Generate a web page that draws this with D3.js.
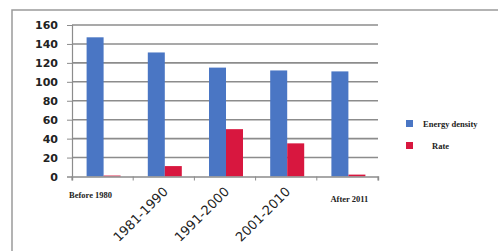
<!DOCTYPE html>
<html>
<head>
<meta charset="utf-8">
<script src="https://cdn.jsdelivr.net/npm/d3@7"></script>
<style>
  body { margin: 0; background: #fff; }
  svg { display: block; }
</style>
</head>
<body>
<div id="chart"></div>
<script>
const categories = ['Before 1980', '1981-1990', '1991-2000', '2001-2010', 'After 2011'];
const energyDensity = [147, 131, 115, 112, 111];
const rate = [1, 11, 50, 35, 2];
const seriesNames = ['Energy density', 'Rate'];
const yTicks = [0, 20, 40, 60, 80, 100, 120, 140, 160];

const W = 498, H = 251;
const margins = { top: 25, left: 72, right: 120, bottom: 74.5 };
const width = W - margins.left - margins.right;
const height = H - margins.top - margins.bottom;
const colors = ['#4a76c4', '#d8173f'];

const svg = d3.select('#chart').append('svg')
    .attr('width', W)
    .attr('height', H);

// outer frame
svg.append('rect')
    .attr('x', 12).attr('y', 10)
    .attr('width', W + 10).attr('height', H + 10)
    .attr('fill', 'none')
    .attr('stroke', '#9a9a9a')
    .attr('stroke-width', 1.5);

const g = svg.append('g').attr('transform', `translate(${margins.left},${margins.top})`);

const x = d3.scaleBand().domain(categories).range([0, width]);
const y = d3.scaleLinear().domain([0, 160]).range([height, 0]);

// gridlines
g.selectAll('.grid')
    .data(yTicks.filter((d) => d > 0))
    .enter()
    .append('line')
    .attr('x1', 0).attr('x2', width)
    .attr('y1', (d) => y(d)).attr('y2', (d) => y(d))
    .attr('stroke', '#8c8c8c')
    .attr('stroke-width', 1.6);

// y axis
const yAxis = g.append('g')
    .call(d3.axisLeft(y).tickValues(yTicks).tickSize(5).tickPadding(9));
yAxis.select('.domain').attr('stroke', '#8c8c8c').attr('stroke-width', 1.2);
yAxis.selectAll('.tick line').attr('stroke', '#8c8c8c');
yAxis.selectAll('.tick text')
    .style('font-family', 'DejaVu Sans, sans-serif')
    .style('font-weight', 'bold')
    .style('font-size', '11px')
    .attr('fill', '#222');

// bars
const barW = 17;
const rows = categories.map((c, i) => ({ c, vals: [energyDensity[i], rate[i]] }));
const groups = g.selectAll('.grp')
    .data(rows)
    .enter()
    .append('g')
    .attr('transform', (d) => `translate(${x(d.c) + x.bandwidth() / 2 - barW + 1},0)`);
groups.selectAll('rect')
    .data((d) => d.vals)
    .enter()
    .append('rect')
    .attr('x', (d, i) => i * barW)
    .attr('y', (d) => y(d))
    .attr('width', barW)
    .attr('height', (d) => height - y(d))
    .attr('fill', (d, i) => colors[i]);

// x axis
const xAxis = g.append('g')
    .attr('transform', `translate(0,${height})`)
    .call(d3.axisBottom(x).tickSize(4).tickFormat(''));
xAxis.select('.domain').attr('stroke', '#8c8c8c').attr('stroke-width', 1.4);
xAxis.selectAll('.tick line').attr('stroke', '#8c8c8c');
// boundary ticks between categories
g.selectAll('.btick')
    .data(d3.range(categories.length + 1))
    .enter()
    .append('line')
    .attr('x1', (d) => d * x.step()).attr('x2', (d) => d * x.step())
    .attr('y1', height).attr('y2', height + 4)
    .attr('stroke', '#8c8c8c');
xAxis.selectAll('.tick line').remove();

// x labels: first and last horizontal, middle rotated
categories.forEach((c, i) => {
    const cx = x(c) + x.bandwidth() / 2;
    if (i === 0 || i === categories.length - 1) {
        g.append('text')
            .attr('x', i === 0 ? cx - 12 : cx + 2)
            .attr('y', height + (i === 0 ? 21 : 25))
            .attr('text-anchor', 'middle')
            .style('font-family', 'Liberation Serif, serif')
            .style('font-weight', 'bold')
            .style('font-size', '8.5px')
            .attr('fill', '#222')
            .text(c);
    } else {
        g.append('text')
            .attr('transform', `translate(${cx + 5},${height + 16}) rotate(-45)`)
            .attr('text-anchor', 'end')
            .style('font-family', 'DejaVu Sans, sans-serif')
            .style('font-size', '13px')
            .attr('fill', '#222')
            .text(c);
    }
});

// legend
const legend = svg.append('g').attr('transform', 'translate(406,120)');
seriesNames.forEach((s, i) => {
    legend.append('rect')
        .attr('x', 0).attr('y', i * 22)
        .attr('width', 7).attr('height', 7)
        .attr('fill', colors[i]);
    legend.append('text')
        .attr('x', i === 0 ? 17 : 26)
        .attr('y', i * 22 + 6.5)
        .style('font-family', 'Liberation Serif, serif')
        .style('font-weight', 'bold')
        .style('font-size', '8.5px')
        .attr('fill', '#222')
        .text(s);
});
</script>
</body>
</html>
